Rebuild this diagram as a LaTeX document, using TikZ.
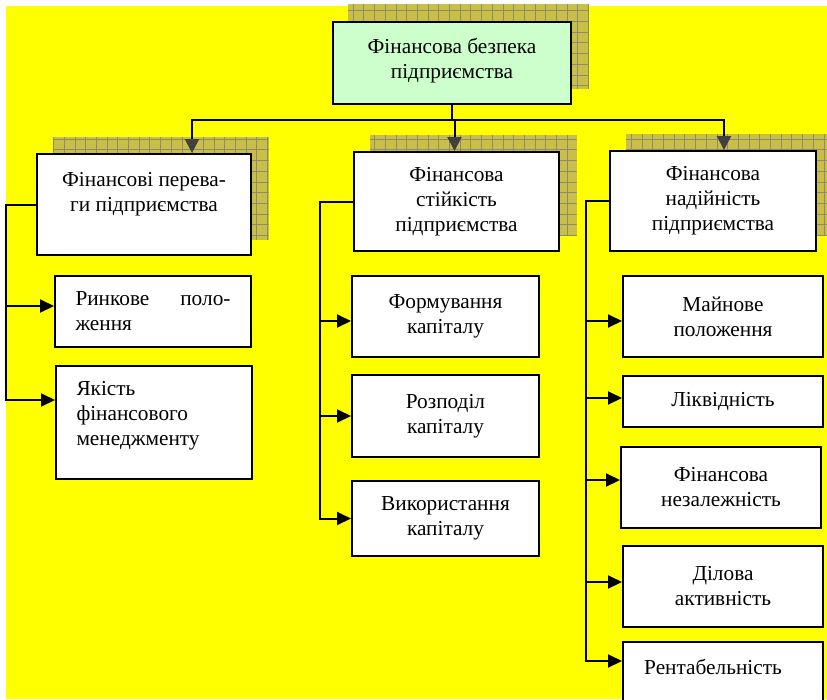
\documentclass[tikz,border=0pt]{standalone}
\usepackage{fontspec}
\setmainfont{Liberation Serif}
\usetikzlibrary{arrows.meta,backgrounds}

\definecolor{sheet}{HTML}{FFFF00}
\definecolor{mintbox}{HTML}{CCFFCC}
\definecolor{shadowfill}{HTML}{C8BE48}
\definecolor{shadowgrid}{HTML}{8E8A6C}
\definecolor{tipgray}{HTML}{404040}

\tikzset{
  block/.style={draw=black, line width=2pt, fill=white, align=center, inner sep=4pt,
    font=\fontsize{21.3}{25}\selectfont},
  mainblock/.style={block, fill=mintbox, line width=2.8pt},
  link/.style={line width=2pt},
  downarrow/.style={link, -{Triangle[length=14pt,width=14pt,color=tipgray]}},
  sidearrow/.style={link, -{Triangle[length=14pt,width=13pt]}},
}

\begin{document}
\begin{tikzpicture}[x=1pt, y=-1pt]
    \useasboundingbox (0,0) rectangle (827,699);
    \begin{scope}[on background layer]
        \fill[sheet] (6,6) rectangle (827,699);
    \end{scope}

    % top and first level
    \node[mainblock, minimum width=238pt, minimum height=82pt] (top) at (452,63) {Фінансова безпека\\підприємства\\[-16pt]\mbox{}};
    \node[block, minimum width=214pt, minimum height=101pt] (pref) at (144,204.5) {Фінансові перева-\\ги підприємства\\[0pt]\mbox{}};
    \node[block, minimum width=205pt, minimum height=99pt] (stab) at (456.5,201.5) {Фінансова\\стійкість\\підприємства};
    \node[block, minimum width=206pt, minimum height=100pt] (rel) at (713,201) {Фінансова\\надійність\\підприємства};

    % left column
    \node[block, minimum width=196pt, minimum height=71pt, text width=155pt, align=left] (market) at (153,311.5)
        {Ринкове\hskip 0pt plus 1fill поло-\\ження};
    \node[block, minimum width=196pt, minimum height=113pt, text width=155pt, align=left] (quality) at (154,422.5)
        {Якість\\фінансового\\менеджменту\\[-7pt]\mbox{}};

    % middle column
    \node[block, minimum width=187pt, minimum height=81pt] (form) at (445.5,316.5) {Формування\\капіталу};
    \node[block, minimum width=187pt, minimum height=82pt] (distr) at (445.5,416) {Розподіл\\капіталу};
    \node[block, minimum width=187pt, minimum height=75pt] (use) at (445.5,518.5) {Використання\\капіталу};

    % right column
    \node[block, minimum width=200pt, minimum height=81pt] (prop) at (723,316.5) {Майнове\\положення};
    \node[block, minimum width=200pt, minimum height=51pt] (liq) at (723,401.5) {Ліквідність};
    \node[block, minimum width=200pt, minimum height=81pt] (indep) at (721,487.5) {Фінансова\\незалежність};
    \node[block, minimum width=200pt, minimum height=81pt] (activity) at (723,586.5) {Ділова\\активність};
    \node[block, minimum width=200pt, minimum height=72pt] (profit) at (723,678) {\hspace*{-20pt}Рентабельність\\[-2pt]\mbox{}};

    % hatched shadows
    \begin{scope}[on background layer]
        \foreach \n in {top,pref,stab,rel}{
            \fill[shadowfill] ([xshift=16.5,yshift=16.5]\n.south west) rectangle ([xshift=16.5,yshift=16.5]\n.north east);
            \begin{scope}
                \clip ([xshift=16.5,yshift=16.5]\n.south west) rectangle ([xshift=16.5,yshift=16.5]\n.north east);
                \draw[shadowgrid, line width=0.8pt, step=10.7pt] ([xshift=16.5,yshift=16.5]\n.south west) grid ([xshift=16.5,yshift=16.5]\n.north east);
            \end{scope}
        }
    \end{scope}

    % connectors
    \coordinate (hub) at (452,120);
    \draw[link] (top) -- (hub);
    \draw[downarrow] (hub) -| ([xshift=48]pref.north);
    \draw[downarrow] (hub) -| ([xshift=-2]stab.north);
    \draw[downarrow] (hub) -| ([xshift=11]rel.north);

    \draw[sidearrow] (pref.west) -| ([xshift=-49,yshift=22.5]quality.west) -- ([yshift=22.5]quality.west);
    \draw[sidearrow] ([xshift=-48,yshift=5.5]market.west) -- ([yshift=5.5]market.west);

    \draw[sidearrow] (stab.west) -| ([xshift=-31]use.west) -- (use.west);
    \foreach \n/\dy in {form/-4.5, distr/0}
        \draw[sidearrow] ([xshift=-31,yshift=\dy]\n.west) -- ([yshift=\dy]\n.west);

    \draw[sidearrow] (rel.west) -| ([xshift=-36,yshift=17]profit.west) -- ([yshift=17]profit.west);
    \foreach \n/\dx/\dy in {prop/-36/-4.5, liq/-36/3.5, indep/-34/7.5, activity/-36/4.5}
        \draw[sidearrow] ([xshift=\dx,yshift=\dy]\n.west) -- ([yshift=\dy]\n.west);
\end{tikzpicture}
\end{document}
